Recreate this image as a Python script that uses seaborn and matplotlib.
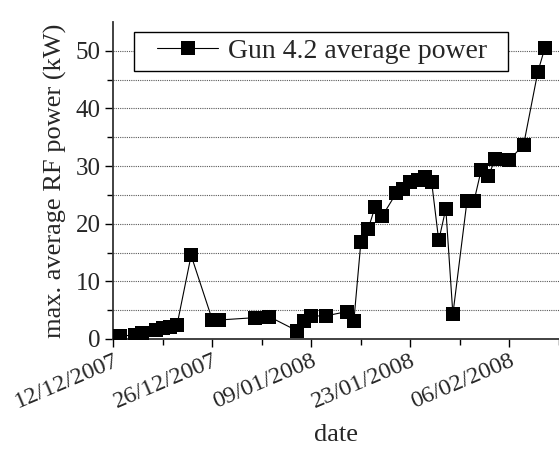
import pandas as pd
import numpy as np
import seaborn as sns
import matplotlib.pyplot as plt
from matplotlib.lines import Line2D
from matplotlib.legend_handler import HandlerLine2D

# days counted from 12/12/2007
start = '2007-12-12'
day_offsets = [1, 3, 4, 6, 7, 8, 9, 11, 14, 15, 20, 22, 26, 27, 28, 30, 33, 34,
               35, 36, 37, 38, 40, 41, 42, 43, 44, 45, 46, 47, 48, 50, 51, 52,
               53, 54, 56, 58, 60, 61]
power_kw = [0.5, 0.7, 1.0, 1.6, 1.85, 2.1, 2.4, 14.5, 3.3, 3.3, 3.7, 3.9, 1.4,
            3.1, 4.0, 4.0, 4.75, 3.1, 16.9, 19.0, 22.9, 21.3, 25.3, 26.1, 27.2,
            27.6, 28.1, 27.2, 17.1, 22.6, 4.3, 24.0, 24.0, 29.3, 28.2, 31.3,
            31.1, 33.7, 46.3, 50.5]
tick_labels = ['12/12/2007', '26/12/2007', '09/01/2008', '23/01/2008', '06/02/2008']
series_name = 'Gun 4.2 average power'

df = pd.DataFrame({
    'date': pd.Timestamp(start) + pd.to_timedelta(day_offsets, unit='D'),
    'power': power_kw,
})

sns.set_theme(style='white')
plt.rcParams['font.family'] = ['Liberation Serif', 'DejaVu Serif']

fig = plt.figure(figsize=(5.59, 4.49), dpi=100)
ax = fig.add_axes([0.2027, 0.245, 0.7973, 0.706])

sns.lineplot(data=df, x='date', y='power', ax=ax, color='black', lw=0.8,
             marker='s', markersize=10, markeredgewidth=0, label=series_name,
             zorder=3)

# dotted horizontal grid every 5 kW
for v in np.arange(5, 55, 5):
    ax.axhline(v, color='0.35', ls=(0, (1, 1)), lw=0.8, zorder=1)

x0 = pd.Timestamp(start)
ax.set_xlim(x0, x0 + pd.Timedelta(days=62.5))
ax.set_ylim(0, 55)

major = [pd.to_datetime(t, dayfirst=True) for t in tick_labels]
ax.set_xticks(major)
ax.set_xticklabels(tick_labels, rotation=23, ha='right', rotation_mode='anchor',
                   fontsize=17.5)
ax.set_xticks([m + pd.Timedelta(days=7) for m in major], minor=True)
ax.set_yticks([0, 10, 20, 30, 40, 50])
ax.set_yticks([5, 15, 25, 35, 45], minor=True)

ax.tick_params(axis='both', which='major', direction='out', length=6, width=1,
               color='black', pad=3, bottom=True, left=True)
ax.tick_params(axis='y', which='major', labelsize=18)
ax.tick_params(axis='both', which='minor', direction='out', length=4, width=1,
               color='black', bottom=True, left=True)
ax.tick_params(axis='x', which='major', pad=2)

for s in ['top', 'right']:
    ax.spines[s].set_visible(False)
for s in ['left', 'bottom']:
    ax.spines[s].set_color('0.2')
    ax.spines[s].set_linewidth(1.3)

ax.set_xlabel('date', fontsize=19, labelpad=8)
ax.set_ylabel('max. average RF power (kW)', fontsize=19, labelpad=6)

handles, labels = ax.get_legend_handles_labels()
leg = ax.legend(handles, [series_name + '  '], loc='upper left',
                bbox_to_anchor=(0.047, 0.97), fontsize=20,
                frameon=True, fancybox=False, framealpha=1, edgecolor='black',
                handlelength=2.77, borderpad=0.25, handletextpad=0.36,
                borderaxespad=0,
                handler_map={Line2D: HandlerLine2D(xpad=0.58)})
leg.get_frame().set_linewidth(1.0)

fig.savefig('out.png', dpi=100)
